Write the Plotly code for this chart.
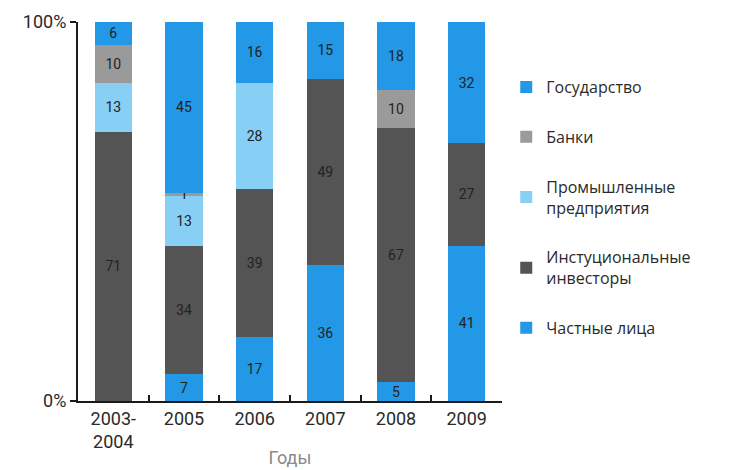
import plotly.graph_objects as go

categories = ["2003-<br>2004", "2005", "2006", "2007", "2008", "2009"]
series_names = ["Частные лица", "Инстуциональные<br>инвесторы", "Промышленные<br>предприятия", "Банки", "Государство"]
chastnye = [None, 7, 17, 36, 5, 41]
institut = [71, 34, 39, 49, 67, 27]
prom = [13, 13, 28, None, None, None]
banki = [10, 1, None, None, 10, None]
gos = [6, 45, 16, 15, 18, 32]
values = [chastnye, institut, prom, banki, gos]
colors = ["#2398e6", "#545454", "#88cff5", "#9a9a9a", "#2398e6"]

fig = go.Figure()
n = len(series_names)
for i, (name, vals, col) in enumerate(zip(series_names, values, colors)):
    fig.add_trace(go.Bar(
        x=categories, y=vals, name=name,
        marker=dict(color=col, line=dict(width=0)),
        text=[("" if v is None else str(v)) for v in vals],
        textposition="inside", insidetextanchor="middle", textangle=0,
        textfont=dict(family="Roboto", size=14, color="#222222"),
        legendgroup="g%d" % i, legendrank=n - i,
    ))

fig.update_layout(
    barmode="stack", bargap=0.47,
    width=730, height=462,
    margin=dict(l=70, r=236, t=14, b=69),
    plot_bgcolor="white", paper_bgcolor="white",
    uniformtext=dict(minsize=14, mode="show"),
    showlegend=True,
    legend=dict(
        x=1.01, y=0.873, xanchor="left", yanchor="top",
        traceorder="grouped", tracegroupgap=26,
        font=dict(family="Open Sans", size=16, color="#2a2a2a"),
        itemwidth=30,
    ),
    xaxis=dict(
        showline=True, linecolor="#1a1a1a", linewidth=2,
        ticks="inside", tickson="boundaries", ticklen=6, tickwidth=2, tickcolor="#1a1a1a",
        tickfont=dict(family="Roboto", size=18, color="#2a2a2a"),
        title=dict(text="Годы", font=dict(family="Roboto", size=18, color="#8a8a8a"), standoff=0),
        showgrid=False, automargin=False,
    ),
    yaxis=dict(
        range=[0, 100], tickvals=[0, 100], ticktext=["0%", "100%"],
        showline=True, linecolor="#1a1a1a", linewidth=2,
        ticks="outside", ticklen=6, tickwidth=2, tickcolor="#1a1a1a",
        tickfont=dict(family="Roboto", size=18, color="#2a2a2a"),
        showgrid=False, zeroline=False, automargin=False,
    ),
)

fig.write_html("out.html")
